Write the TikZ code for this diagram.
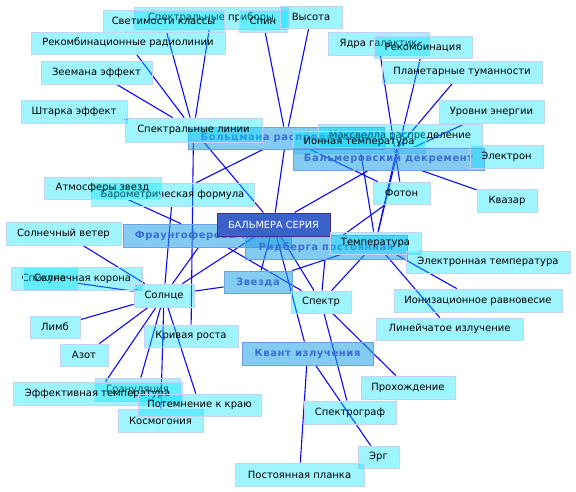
\documentclass[tikz,border=0pt]{standalone}
\usepackage{fontspec}
\setmainfont{DejaVu Sans}
\newfontfamily\catfont[LetterSpace=6]{DejaVu Sans}
\definecolor{leaffill}{RGB}{0,228,255}
\definecolor{leafborder}{RGB}{196,210,245}
\definecolor{catfill}{RGB}{30,160,230}
\definecolor{catborder}{RGB}{110,160,232}
\definecolor{cattext}{RGB}{60,110,210}
\definecolor{centerfill}{RGB}{58,98,200}
\definecolor{centerborder}{RGB}{75,42,144}
\definecolor{linkcol}{RGB}{10,10,250}
\pgfdeclarelayer{bg}
\pgfsetlayers{bg,main}
\tikzset{
  leaf/.style={draw=leafborder, line width=0.8pt, fill=leaffill, fill opacity=0.38, text opacity=1, inner sep=0pt, text=black, font=\fontsize{10}{12}\selectfont},
  cat/.style={draw=catborder, line width=0.8pt, fill=catfill, fill opacity=0.55, text opacity=1, inner sep=0pt, text=cattext, font=\catfont\fontsize{10}{12}\selectfont\bfseries},
  hub/.style={draw=centerborder, line width=1pt, fill=centerfill, inner sep=0pt, text=white, font=\fontsize{9.8}{12}\selectfont},
  link/.style={draw=linkcol, line width=1.1pt}
}
\begin{document}
\begin{tikzpicture}[x=1pt,y=-1pt]
\useasboundingbox (0,0) rectangle (576,492);
% nodes
\node[leaf, minimum width=154pt, minimum height=22pt] (pribory) at (211,18) {Спектральные приборы};
\node[leaf, minimum width=121pt, minimum height=22pt] (svet) at (163.5,21) {Светимости классы};
\node[leaf, minimum width=48pt, minimum height=22pt] (spin) at (263,21) {Спин};
\node[leaf, minimum width=62pt, minimum height=22pt] (vysota) at (311,17) {Высота};
\node[leaf, minimum width=101pt, minimum height=23pt] (yadra) at (378.5,43.5) {Ядра галактик};
\node[leaf, minimum width=98pt, minimum height=22pt] (rekomb) at (423,47) {Рекомбинация};
\node[leaf, minimum width=194pt, minimum height=22pt] (radio) at (128,43) {Рекомбинационные радиолинии};
\node[leaf, minimum width=111pt, minimum height=23pt] (zeeman) at (96.5,72.5) {Зеемана эффект};
\node[leaf, minimum width=160pt, minimum height=22pt] (planet) at (462,72) {Планетарные туманности};
\node[leaf, minimum width=106pt, minimum height=23pt] (stark) at (74,111.5) {Штарка эффект};
\node[leaf, minimum width=105pt, minimum height=23pt] (urovni) at (491.5,111.5) {Уровни энергии};
\node[cat, minimum width=196pt, minimum height=22pt] (boltz) at (286,138) {Больцмана распределение};
\node[leaf, minimum width=137pt, minimum height=24pt] (speclines) at (193.5,130) {Спектральные линии};
\node[leaf, minimum width=164pt, minimum height=23pt] (maxwell) at (400,135.5) {Максвелла распределение};
\node[leaf, minimum width=132pt, minimum height=22pt] (iontemp) at (359,142) {Ионная температура};
\node[cat, minimum width=191pt, minimum height=22pt] (decrement) at (388.5,159) {Бальмеровский декремент};
\node[leaf, minimum width=73pt, minimum height=23pt] (electron) at (506.5,156.5) {Электрон};
\node[leaf, minimum width=163pt, minimum height=23pt] (barometr) at (172.5,194.5) {Барометрическая формула};
\node[leaf, minimum width=117pt, minimum height=22pt] (atmos) at (102.5,188) {Атмосферы звезд};
\node[leaf, minimum width=57pt, minimum height=22pt] (foton) at (401.5,193) {Фотон};
\node[leaf, minimum width=60pt, minimum height=23pt] (kvazar) at (507,200.5) {Квазар};
\node[cat, minimum width=168pt, minimum height=23pt] (fraun) at (207,235.5) {Фраунгоферовы линии};
\node[cat, minimum width=162pt, minimum height=24pt] (rydberg) at (326,247.5) {Ридберга постоянная};
\node[hub, minimum width=113pt, minimum height=23pt] (balmer) at (273.5,224.5) {БАЛЬМЕРА СЕРИЯ};
\node[leaf, minimum width=115pt, minimum height=23pt] (wind) at (63.5,233.5) {Солнечный ветер};
\node[leaf, minimum width=91pt, minimum height=22pt] (temp) at (375.5,243) {Температура};
\node[leaf, minimum width=164pt, minimum height=22pt] (eltemp) at (488,262) {Электронная температура};
\node[leaf, minimum width=66pt, minimum height=23pt] (spikula) at (44,278.5) {Спикула};
\node[leaf, minimum width=119pt, minimum height=23pt] (corona) at (82.5,278.5) {Солнечная корона};
\node[cat, minimum width=68pt, minimum height=22pt] (zvezda) at (258,282) {Звезда};
\node[leaf, minimum width=60pt, minimum height=23pt] (sun) at (164,295.5) {Солнце};
\node[leaf, minimum width=168pt, minimum height=23pt] (ioniz) at (478,300.5) {Ионизационное равновесие};
\node[leaf, minimum width=60pt, minimum height=22pt] (spectr) at (321,302) {Спектр};
\node[leaf, minimum width=50pt, minimum height=22pt] (limb) at (55,327) {Лимб};
\node[leaf, minimum width=147pt, minimum height=22pt] (lineych) at (449.5,329) {Линейчатое излучение};
\node[leaf, minimum width=94pt, minimum height=22pt] (krivaya) at (191,336) {Кривая роста};
\node[leaf, minimum width=48pt, minimum height=22pt] (azot) at (84,355) {Азот};
\node[cat, minimum width=131pt, minimum height=23pt] (kvant) at (307.5,353.5) {Квант излучения};
\node[leaf, minimum width=85pt, minimum height=23pt] (granul) at (137.5,389.5) {Грануляция};
\node[leaf, minimum width=169pt, minimum height=23pt] (efftemp) at (97.5,393.5) {Эффективная температура};
\node[leaf, minimum width=94pt, minimum height=23pt] (prohozh) at (408,387.5) {Прохождение};
\node[leaf, minimum width=85pt, minimum height=23pt] (kosmog) at (160.5,420.5) {Космогония};
\node[leaf, minimum width=123pt, minimum height=22pt] (potemn) at (199.5,405) {Потемнение к краю};
\node[leaf, minimum width=92pt, minimum height=23pt] (spectrograph) at (350,412.5) {Спектрограф};
\node[leaf, minimum width=41pt, minimum height=22pt] (erg) at (378.5,457) {Эрг};
\node[leaf, minimum width=129pt, minimum height=23pt] (planck) at (299.5,474.5) {Постоянная планка};
% connectors
\begin{pgfonlayer}{bg}
\foreach \a/\b in {speclines/svet, speclines/radio, speclines/zeeman, speclines/stark, speclines/pribory, speclines/balmer, speclines/krivaya,
  boltz/spin, boltz/vysota, boltz/balmer, boltz/barometr, boltz/foton, atmos/fraun,
  sun/barometr, sun/wind, sun/spikula, sun/corona, sun/limb, sun/azot, sun/efftemp, sun/granul, sun/kosmog, sun/potemn, sun/zvezda, sun/fraun, sun/balmer,
  balmer/kvant, balmer/spectr, balmer/zvezda, balmer/decrement, fraun/spectr, zvezda/temp,
  spectr/spectrograph, spectr/prohozh, spectr/temp, spectr/rydberg, rydberg/foton,
  kvant/planck, kvant/erg,
  temp/rekomb, temp/maxwell, temp/iontemp, temp/ioniz, temp/lineych, temp/eltemp,
  yadra/foton, planet/decrement, urovni/decrement, decrement/kvazar}
  \draw[link] (\a) -- (\b);
\end{pgfonlayer}
\end{tikzpicture}
\end{document}
